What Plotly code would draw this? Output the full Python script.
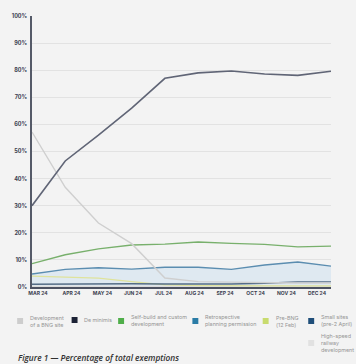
import plotly.graph_objects as go

months = ["MAR 24", "APR 24", "MAY 24", "JUN 24", "JUL 24", "AUG 24", "SEP 24", "OCT 24", "NOV 24", "DEC 24"]

de_minimis = [30.0, 46.5, 56.0, 66.0, 77.0, 79.0, 79.7, 78.6, 78.1, 79.6]
development_bng = [57.2, 36.8, 23.6, 16.0, 3.3, 2.0, 1.8, 1.6, 1.5, 1.5]
self_build = [8.6, 11.9, 14.1, 15.5, 15.8, 16.6, 16.1, 15.7, 14.8, 15.1]
retrospective = [4.8, 6.5, 7.1, 6.6, 7.3, 7.3, 6.5, 8.1, 9.2, 7.7]
pre_bng = [4.0, 3.7, 3.3, 2.0, 0.8, 0.5, 0.4, 0.4, 0.4, 0.4]
small_sites = [1.0, 1.1, 1.2, 1.2, 1.1, 1.0, 1.1, 1.4, 1.9, 1.9]
high_speed = [0.2, 0.2, 0.2, 0.2, 0.2, 0.2, 0.2, 0.2, 0.2, 0.2]

y_ticks = [0, 10, 20, 30, 40, 50, 60, 70, 80, 90, 100]
y_tick_labels = [f"{v}%" for v in y_ticks]

legend_names = ["Development<br>of a BNG site", "De minimis", "Self-build and custom<br>development",
                "Retrospective<br>planning permission", "Pre-BNG<br>(12 Feb)", "Small sites<br>(pre-2 April)",
                "High-speed<br>railway<br>development"]
legend_colors = ["#cdcdcd", "#1c2235", "#4fae4a", "#2a7ca6", "#c8db6e", "#1f4e79", "#e1e1e1"]

# layout positions (pixels) for the custom legend
legend_px = [(14, 321), (69, 320), (116, 321), (191, 321), (262, 321), (308, 321), (308, 343)]

W, H = 356, 364
L, R, T, B = 29, 25, 16, 77
pw, ph = W - L - R, H - T - B

x = list(range(len(months)))
# label positions along the axis (in index units)
tick_pos = [0.18, 1.19, 2.12, 3.04, 3.96, 4.89, 5.81, 6.73, 7.66, 8.58]

fig = go.Figure()

fig.add_trace(go.Scatter(x=x, y=retrospective, mode="lines", line=dict(color="#5b8db0", width=1.4),
                         fill="tozeroy", fillcolor="rgba(200,222,240,0.45)", name="Retrospective planning permission"))
fig.add_trace(go.Scatter(x=x, y=high_speed, mode="lines", line=dict(color="#dcdcdc", width=1.2), name="High-speed railway development"))
fig.add_trace(go.Scatter(x=x, y=pre_bng, mode="lines", line=dict(color="#dfe39c", width=1.3), name="Pre-BNG (12 Feb)"))
fig.add_trace(go.Scatter(x=x, y=small_sites, mode="lines", line=dict(color="#556d86", width=1.4), name="Small sites (pre-2 April)"))
fig.add_trace(go.Scatter(x=x, y=self_build, mode="lines", line=dict(color="#78b06c", width=1.3), name="Self-build and custom development"))
fig.add_trace(go.Scatter(x=x, y=development_bng, mode="lines", line=dict(color="#cfcfcf", width=1.4), name="Development of a BNG site"))
fig.add_trace(go.Scatter(x=x, y=de_minimis, mode="lines", line=dict(color="#606576", width=1.6), name="De minimis"))

fig.update_layout(
    width=W, height=H,
    margin=dict(l=L, r=R, t=T, b=B),
    paper_bgcolor="#f3f3f3", plot_bgcolor="#f3f3f3",
    showlegend=False,
    font=dict(family="Inter, Noto Sans, sans-serif"),
)

fig.update_xaxes(range=[0, 9], tickvals=tick_pos, ticktext=months, showgrid=False, zeroline=False,
                 showline=True, linecolor="#4d5262", linewidth=2, ticks="",
                 tickfont=dict(size=5, color="#3b4050", family="Inter, sans-serif", weight="bold"))
fig.update_yaxes(range=[0, 100], tickvals=y_ticks, ticktext=y_tick_labels, showgrid=True, gridcolor="#e2e2e2",
                 gridwidth=1, zeroline=False, showline=True, linecolor="#555a68", linewidth=1.5, ticks="",
                 ticklabelstandoff=2,
                 tickfont=dict(size=5.5, color="#3b4050", family="Inter, sans-serif", weight="bold"))

def px_to_paper(px, py):
    return (px - L) / pw, (H - B - py) / ph

for name, color, (lx, ly) in zip(legend_names, legend_colors, legend_px):
    x0, y0 = px_to_paper(lx, ly - 3)
    x1, y1 = px_to_paper(lx + 6, ly + 3)
    fig.add_shape(type="rect", xref="paper", yref="paper", x0=x0, x1=x1, y0=y1, y1=y0,
                  fillcolor=color, line=dict(width=0))
    tx, ty = px_to_paper(lx + 11, ly)
    fig.add_annotation(xref="paper", yref="paper", x=tx, y=ty, text=name, showarrow=False,
                       xanchor="left", yanchor="middle", align="left",
                       font=dict(size=5.4, color="#959595", family="Inter, sans-serif"))

tx, ty = px_to_paper(13, 357)
fig.add_annotation(xref="paper", yref="paper", x=tx, y=ty, text="<i>Figure 1 — Percentage of total exemptions</i>",
                   showarrow=False, xanchor="left", yanchor="middle",
                   font=dict(size=8.3, color="#303030", family="Open Sans, sans-serif", weight=600))

fig.write_html("out.html", config={"displayModeBar": False},
               post_script="document.body.style.margin='0';document.body.style.overflow='hidden';")
